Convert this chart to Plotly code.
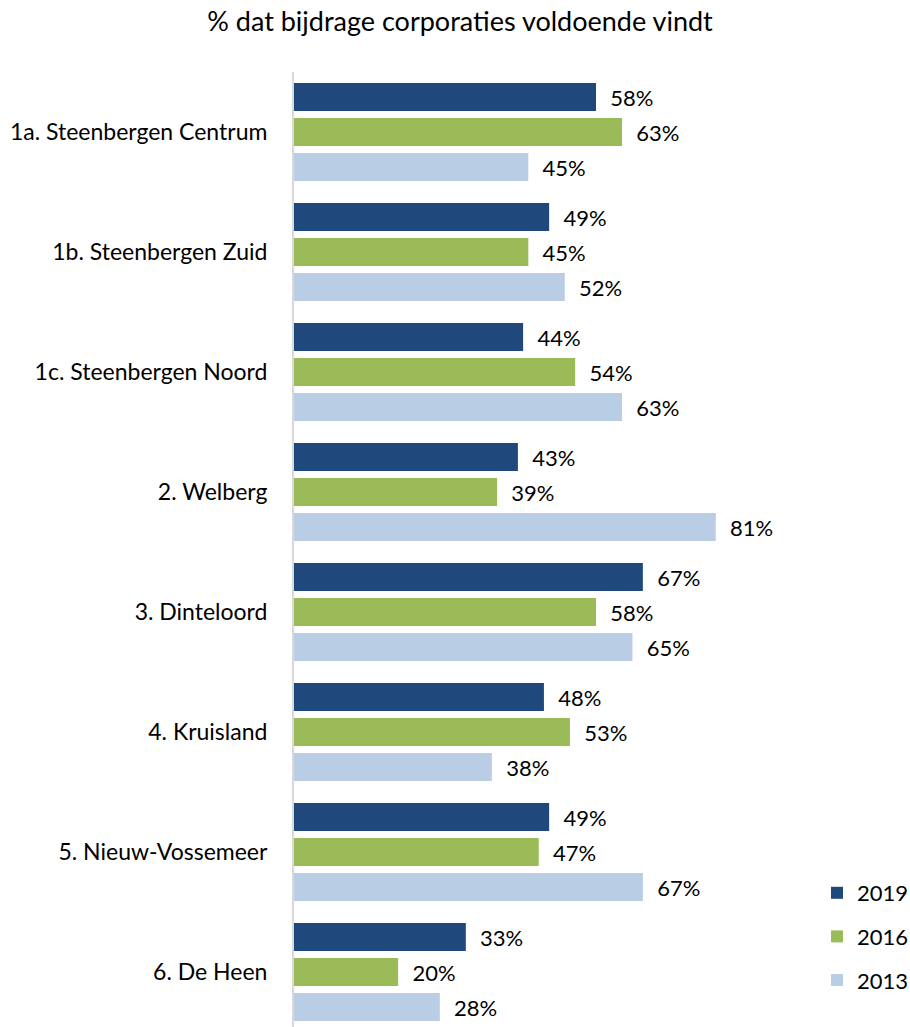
import plotly.graph_objects as go

title = "% dat bijdrage corporaties voldoende vindt"
categories = ["1a. Steenbergen Centrum", "1b. Steenbergen Zuid", "1c. Steenbergen Noord",
              "2. Welberg", "3. Dinteloord", "4. Kruisland", "5. Nieuw-Vossemeer", "6. De Heen"]
series_names = ["2019", "2016", "2013"]
values_2019 = [58, 49, 44, 43, 67, 48, 49, 33]
values_2016 = [63, 45, 54, 39, 58, 53, 47, 20]
values_2013 = [45, 52, 63, 81, 65, 38, 67, 28]
colors = ["#1F497D", "#9BBB59", "#B9CDE5"]

FONT = "Lato"
W, H = 910, 1027
L, R, T, B = 294, 0, 72, 0
PX_PER_PCT = 5.207

fig = go.Figure()
for name, vals, col in zip(series_names, [values_2019, values_2016, values_2013], colors):
    fig.add_trace(go.Bar(
        y=categories, x=vals, name=name, orientation="h",
        marker=dict(color=col, line=dict(width=0)),
        text=[f"\u00a0\u00a0{v}%" for v in vals], textposition="outside",
        textfont=dict(family=FONT, size=22, color="#000000"),
        cliponaxis=False, legendgroup=name,
    ))

plot_w = W - L - R
plot_h = H - T - B
n_vis = plot_h / 120.0
fig.update_layout(
    template="none",
    width=W, height=H,
    margin=dict(l=L, r=R, t=T, b=B, pad=0, autoexpand=False),
    paper_bgcolor="white", plot_bgcolor="white",
    barmode="group", bargap=0.125, bargroupgap=0.2,
    title=dict(text=title, x=460 / W, xanchor="center", xref="container",
               y=1 - 22 / H, yanchor="middle", yref="container",
               font=dict(family=FONT, size=27, color="#000000")),
    font=dict(family=FONT, size=22, color="#000000"),
    xaxis=dict(range=[0, plot_w / PX_PER_PCT], visible=False, fixedrange=True,
               automargin=False),
    yaxis=dict(type="category", range=[n_vis - 0.5, -0.5], showgrid=False,
               showline=True, linecolor="#D9D9D9", linewidth=2, ticks="",
               ticklabelstandoff=20, automargin=False,
               tickfont=dict(family=FONT, size=23, color="#000000"),
               zeroline=False),
    legend=dict(x=(817 - L) / plot_w, xanchor="left",
                y=(H - 872) / plot_h, yanchor="top", yref="paper",
                font=dict(family=FONT, size=22, color="#000000"),
                tracegroupgap=12, bgcolor="rgba(0,0,0,0)", borderwidth=0),
    showlegend=True,
)
fig.write_html("out.html", post_script="document.body.style.margin='0';",
               config={"displayModeBar": False})
